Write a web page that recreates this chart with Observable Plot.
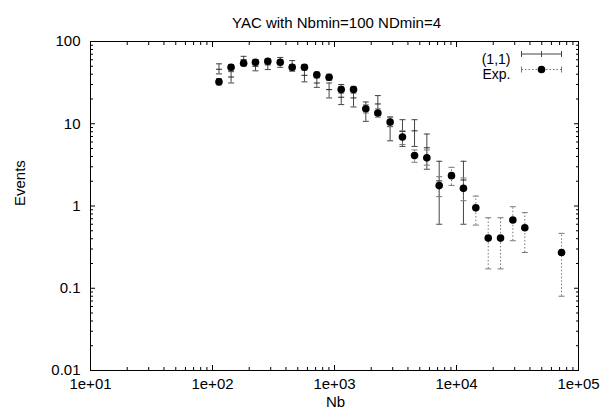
<!DOCTYPE html>
<html><head><meta charset="utf-8">
<script src="https://cdn.jsdelivr.net/npm/d3@7"></script>
<script src="https://cdn.jsdelivr.net/npm/@observablehq/plot@0.6"></script>
<style>body{margin:0;background:#fff} #chart svg{display:block}</style>
</head><body><div id="chart"></div>
<script>
// ---- data ----
const title = "YAC with Nbmin=100 NDmin=4";
const xLabel = "Nb";
const yLabel = "Events";
const legendLabels = ["(1,1)", "Exp."];

const nb        = [113, 142, 180, 225, 284, 359, 450, 567, 716, 903, 1135, 1432, 1806, 2266, 2857, 3606, 4530, 5714, 7213, 9100, 11400, 14400, 18200, 22960, 28970, 36300, 72600];
const expEvents = [32.3, 48.6, 54.3, 56, 57.5, 56, 48.6, 48.6, 39.3, 36.7, 26, 26, 15.2, 13.5, 10.5, 6.9, 4.1, 3.85, 1.77, 2.34, 1.64, 0.95, 0.407, 0.407, 0.675, 0.544, 0.272];
const expLo     = [29.5, 45, 50.5, 52, 53.5, 52, 45, 45, 36, 33.5, 23.5, 23.5, 13.5, 12, 9.2, 5.6, 3.4, 3.14, 1.3, 1.78, 1.16, 0.586, 0.172, 0.172, 0.378, 0.272, 0.08];
const expHi     = [35.5, 52.5, 58.5, 60, 61.5, 60, 52.5, 52.5, 42.5, 40, 28.5, 28.5, 17, 15.2, 12, 8.2, 4.8, 4.8, 2.27, 2.95, 2.19, 1.32, 0.72, 0.72, 0.98, 0.83, 0.465];

const simNb     = [113, 142, 180, 225, 284, 359, 450, 567, 716, 903, 1135, 1432, 1806, 2266, 2857, 3606, 4530, 5714, 7213, 11400];
const simEvents = [46, 37, 60, 50, 52, 55, 50, 38.8, 31.3, 26, 21, 20.6, 15.5, 17.4, 9.3, 8.05, 8.2, 5.1, 2.02, 2.07];
const simLo     = [40.4, 31.3, 52.5, 44, 45.6, 48.5, 43.5, 32.3, 27.7, 20.6, 17.1, 16, 10.7, 12.8, 6.2, 5.3, 5.3, 2.8, 0.6, 0.6];
const simHi     = [53.5, 43, 66, 59, 61, 64, 58.6, 47.8, 36.7, 31.3, 30, 27.5, 18.4, 22, 12.1, 11.2, 11.2, 7.5, 3.5, 3.5];

const xTicks = [10, 100, 1000, 10000, 100000];
const xTickLabels = ["1e+01", "1e+02", "1e+03", "1e+04", "1e+05"];
const yTicks = [0.01, 0.1, 1, 10, 100];
const yTickLabels = ["0.01", "0.1", "1", "10", "100"];

// ---- derived tables ----
const expData = nb.map((x, i) => ({x, y: expEvents[i], lo: expLo[i], hi: expHi[i]}));
const simData = simNb.map((x, i) => ({x, y: simEvents[i], lo: simLo[i], hi: simHi[i]}));
const xLab = new Map(xTicks.map((d, i) => [d, xTickLabels[i]]));
const yLab = new Map(yTicks.map((d, i) => [d, yTickLabels[i]]));
function minorTicks(e0, e1) { const out = []; for (let e = e0; e < e1; e++) for (let k = 2; k < 10; k++) out.push(+(k * Math.pow(10, e)).toPrecision(3)); return out; }
const xMinor = minorTicks(1, 5);
const yMinor = minorTicks(-2, 2);

// ---- symbols ----
const hcap = {draw(c) { c.moveTo(-3, 0); c.lineTo(3, 0); }};
const simKey = {draw(c) {
  c.moveTo(-20, 0); c.lineTo(20, 0);
  c.moveTo(-20, -3); c.lineTo(-20, 3);
  c.moveTo(20, -3); c.lineTo(20, 3);
  c.moveTo(0, -3); c.lineTo(0, 3);
}};
const expKeyLine = {draw(c) { c.moveTo(-20, 0); c.lineTo(20, 0); }};
const expKeyCaps = {draw(c) { c.moveTo(-20, -3); c.lineTo(-20, 3); c.moveTo(20, -3); c.lineTo(20, 3); }};

const FONT = "Liberation Sans, Arial, Helvetica, sans-serif";
const FS = 15;
const simColor = "#444";
const expColor = "#777";
const blank = () => "";

const chart = Plot.plot({
  width: 600, height: 417,
  marginLeft: 90, marginRight: 22, marginTop: 41, marginBottom: 47,
  x: {type: "log", domain: [10, 1e5], axis: null, label: null},
  y: {type: "log", domain: [0.01, 100], axis: null, label: null},
  style: {fontFamily: FONT, fontSize: FS + "px", background: "white", color: "black", overflow: "visible"},
  marks: [
    Plot.frame({stroke: "black", strokeWidth: 1}),
    // inward ticks
    Plot.axisX(xTicks, {anchor: "bottom", tickSize: -5, tickFormat: blank, label: null}),
    Plot.axisX(xMinor, {anchor: "bottom", tickSize: -3, tickFormat: blank, label: null}),
    Plot.axisX(xTicks, {anchor: "top", tickSize: -5, tickFormat: blank, label: null}),
    Plot.axisX(xMinor, {anchor: "top", tickSize: -3, tickFormat: blank, label: null}),
    Plot.axisY(yTicks, {anchor: "left", tickSize: -5, tickFormat: blank, label: null}),
    Plot.axisY(yMinor, {anchor: "left", tickSize: -3, tickFormat: blank, label: null}),
    Plot.axisY(yTicks, {anchor: "right", tickSize: -5, tickFormat: blank, label: null}),
    Plot.axisY(yMinor, {anchor: "right", tickSize: -3, tickFormat: blank, label: null}),
    // tick labels
    Plot.axisX(xTicks, {anchor: "bottom", tickSize: 0, tickPadding: 8, tickFormat: d => xLab.get(d), fontSize: FS, fontFamily: FONT, label: null}),
    Plot.axisY(yTicks, {anchor: "left", tickSize: 0, tickPadding: 10, tickFormat: d => yLab.get(d), fontSize: FS, fontFamily: FONT, label: null}),
    // (1,1) series: solid error bars with "+" points
    Plot.ruleX(simData, {x: "x", y1: "lo", y2: "hi", stroke: simColor, strokeWidth: 1}),
    Plot.dot(simData, {x: "x", y: "lo", symbol: hcap, fill: "none", stroke: simColor, strokeWidth: 1}),
    Plot.dot(simData, {x: "x", y: "hi", symbol: hcap, fill: "none", stroke: simColor, strokeWidth: 1}),
    Plot.dot(simData, {x: "x", y: "y", symbol: hcap, fill: "none", stroke: "#222", strokeWidth: 1}),
    // Exp series: dotted error bars with filled circles
    Plot.ruleX(expData, {x: "x", y1: "lo", y2: "hi", stroke: expColor, strokeWidth: 1, strokeDasharray: "1.5,2"}),
    Plot.dot(expData, {x: "x", y: "lo", symbol: hcap, fill: "none", stroke: expColor, strokeWidth: 1}),
    Plot.dot(expData, {x: "x", y: "hi", symbol: hcap, fill: "none", stroke: expColor, strokeWidth: 1}),
    Plot.dot(expData, {x: "x", y: "y", r: 3.8, fill: "black", stroke: "none"}),
    // legend
    Plot.text([legendLabels[0]], {text: d => d, frameAnchor: "top-right", dx: -68, dy: 12.5, textAnchor: "end", fontSize: 14, fontFamily: FONT, fill: "black"}),
    Plot.text([legendLabels[1]], {text: d => d, frameAnchor: "top-right", dx: -68, dy: 28, textAnchor: "end", fontSize: 14, fontFamily: FONT, fill: "black"}),
    Plot.dot([legendLabels[0]], {frameAnchor: "top-right", dx: -37, dy: 12.5, symbol: simKey, fill: "none", stroke: simColor, strokeWidth: 1}),
    Plot.dot([legendLabels[1]], {frameAnchor: "top-right", dx: -37, dy: 28, symbol: expKeyLine, fill: "none", stroke: expColor, strokeWidth: 1, strokeDasharray: "1.5,2"}),
    Plot.dot([legendLabels[1]], {frameAnchor: "top-right", dx: -37, dy: 28, symbol: expKeyCaps, fill: "none", stroke: expColor, strokeWidth: 1}),
    Plot.dot([legendLabels[1]], {frameAnchor: "top-right", dx: -37, dy: 28, r: 3.8, fill: "black", stroke: "none"}),
    // title and axis labels
    Plot.text([title], {text: d => d, frameAnchor: "top", dx: 2, dy: -24, fontSize: FS, fontFamily: FONT, fill: "black"}),
    Plot.text([xLabel], {text: d => d, frameAnchor: "bottom", dx: 1, dy: 36, fontSize: FS, fontFamily: FONT, fill: "black"}),
    Plot.text([yLabel], {text: d => d, frameAnchor: "left", dx: -70, rotate: -90, fontSize: FS, fontFamily: FONT, fill: "black"})
  ]
});
document.getElementById("chart").appendChild(chart);
</script>
</body></html>
